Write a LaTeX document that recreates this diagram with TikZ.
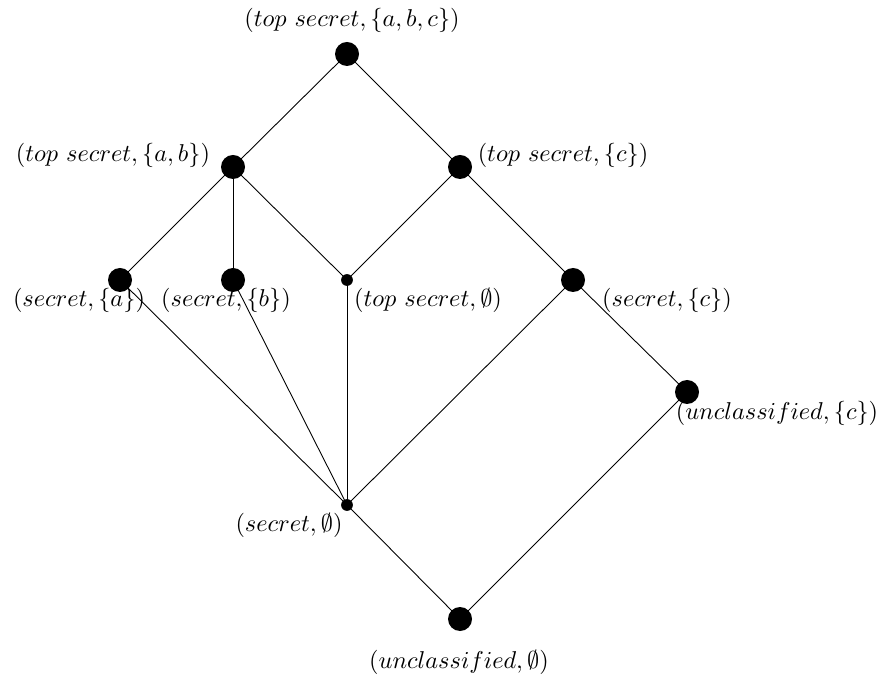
\documentclass[tikz,border=0pt]{standalone}
\begin{document}
\begin{tikzpicture}[x=0.45pt,y=-0.45pt,
  big/.style={circle,fill=black,inner sep=0pt,minimum size=10.8pt},
  small/.style={circle,fill=black,inner sep=0pt,minimum size=5.3pt},
  lab/.style={inner sep=0pt,font=\fontsize{10.8pt}{13pt}\selectfont},
  edge/.style={line width=0.4pt}]
\useasboundingbox (0,0) rectangle (882,680);
% vertices
\node[big]   (tabc) at (347,54)  {};
\node[big]   (tab)  at (233,167) {};
\node[big]   (tc)   at (460,167) {};
\node[big]   (sa)   at (120,280) {};
\node[big]   (sb)   at (233,280) {};
\node[small] (te)   at (347,280) {};
\node[big]   (sc)   at (573,280) {};
\node[big]   (uc)   at (687,392) {};
\node[small] (se)   at (347,505) {};
\node[big]   (ue)   at (460,619) {};
% edges
\foreach \a/\b in {tabc/tab,tabc/tc,tab/sa,tab/sb,tab/te,tc/te,tc/sc,sc/uc,
                   sa/se,sb/se,te/se,sc/se,se/ue,uc/ue}
  \draw[edge] (\a.center) -- (\b.center);
% labels
\node[lab] (Ltabc) at (352,20)  {$(top\ secret, \{a,b,c\})$};
\node[lab] (Ltab)  at (113,155) {$(top\ secret, \{a,b\})$};
\node[lab] (Ltc)   at (563,155) {$(top\ secret, \{c\})$};
\node[lab] (Lsa)   at (79,300)  {$(secret, \{a\})$};
\node[lab] (Lsb)   at (226,300) {$(secret, \{b\})$};
\node[lab] (Lte)   at (428,300) {$(top\ secret, \emptyset)$};
\node[lab] (Lsc)   at (667,300) {$(secret, \{c\})$};
\node[lab] (Luc)   at (777,413) {$(unclassified, \{c\})$};
\node[lab] (Lse)   at (289,525) {$(secret, \emptyset)$};
\node[lab] (Lue)   at (459,662) {$(unclassified, \emptyset)$};
\end{tikzpicture}
\end{document}
